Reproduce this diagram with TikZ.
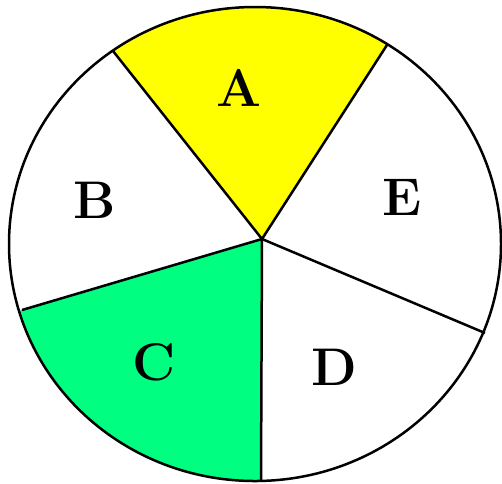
\documentclass[tikz,border=0pt]{standalone}
\usetikzlibrary{calc}
\definecolor{secyellow}{RGB}{255,255,0}
\definecolor{secgreen}{RGB}{0,255,128}
\tikzset{
  rim/.style={draw=black, line width=2.5pt},
  spoke/.style={draw=black, line width=2.5pt},
  lbl/.style={font=\fontsize{53}{53}\selectfont\bfseries, inner sep=0pt}
}
\begin{document}
\begin{tikzpicture}[x=1pt,y=-1pt]
\useasboundingbox (0,0) rectangle (502,483);
\coordinate (O) at (262,239);
\coordinate (M) at (255,244);
\coordinate (pA1) at (113,51);
\coordinate (pA2) at (387,45);
\coordinate (pE) at (485,333);
\coordinate (pD) at (261,481);
\coordinate (pB) at (22,310);
\begin{scope}
  \clip (O) -- ($(O)!4!(pA1)$) -- ($(O)!4!(pA2)$) -- cycle;
  \fill[secyellow] (M) ellipse [x radius=246, y radius=237];
\end{scope}
\begin{scope}
  \clip (O) -- ($(O)!4!(pB)$) -- ($(O)!4!(pD)$) -- cycle;
  \fill[secgreen] (M) ellipse [x radius=246, y radius=237];
\end{scope}
\draw[rim] (M) ellipse [x radius=246, y radius=237];
\draw[spoke] (O) -- (pA1);
\draw[spoke] (O) -- (pA2);
\draw[spoke] (O) -- (pE);
\draw[spoke] (O) -- (pD);
\draw[spoke] (O) -- (pB);
\node[lbl] (A) at (239,88) {A};
\node[lbl] (B) at (95,200) {B};
\node[lbl] (C) at (154,362) {C};
\node[lbl] (D) at (334,367) {D};
\node[lbl] (E) at (402,197) {E};
\end{tikzpicture}
\end{document}
